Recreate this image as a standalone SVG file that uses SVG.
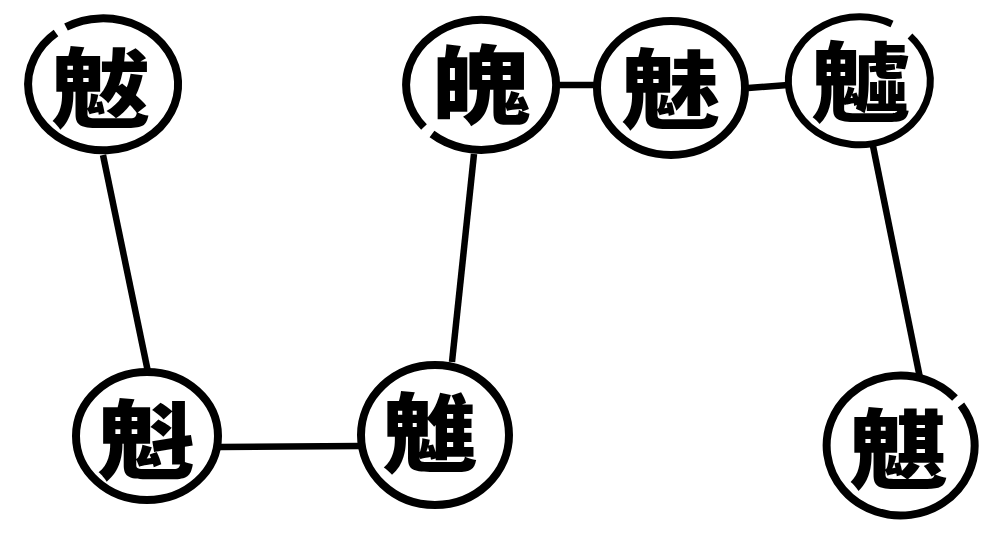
<svg xmlns="http://www.w3.org/2000/svg" width="986" height="534" viewBox="0 0 986 534">
<style>
.ring{fill:none;stroke:#000;stroke-width:8;stroke-linecap:butt}
.link{fill:none;stroke:#000;stroke-width:6.5;stroke-linecap:butt}
.glyph{font-family:"Noto Sans CJK TC","Noto Sans CJK SC",sans-serif;font-weight:900;font-size:86px;text-anchor:middle;fill:#000}
</style>
<rect width="986" height="534" fill="#fff"/>
<g id="connectors">
<path class="link" d="M103 155L148 372"/>
<path class="link" d="M474 154L452 362"/>
<path class="link" d="M873 146L920 378"/>
<path class="link" d="M558 85H596"/>
<path class="link" d="M748 88L788 85"/>
<path class="link" d="M220 447L360 446"/>
</g>
<g id="node-1"><path class="ring" d="M66 27A75 66 0 1 1 56 33"/><text class="glyph" transform="translate(101 121) scale(1.15 1)">魃</text></g>
<g id="node-2"><path class="ring" d="M432 134A75 65 0 1 0 424 127"/><text class="glyph" transform="translate(481 118) scale(1.15 1)">魄</text></g>
<g id="node-3"><ellipse class="ring" cx="671" cy="88" rx="74" ry="67"/><text class="glyph" transform="translate(671 122) scale(1.15 1)">魅</text></g>
<g id="node-4"><path class="ring" style="stroke-width:7" d="M910 36A71 64 0 1 1 892 24"/><text class="glyph" transform="translate(861 115) scale(1.15 1)">魖</text></g>
<g id="node-5"><ellipse class="ring" cx="147" cy="436" rx="71" ry="64"/><text class="glyph" transform="translate(147 473) scale(1.15 1)">魁</text></g>
<g id="node-6"><ellipse class="ring" cx="435" cy="435" rx="74" ry="70"/><text class="glyph" transform="translate(430 466) scale(1.1 1)">魋</text></g>
<g id="node-7"><path class="ring" d="M961 405A74 70 0 1 1 955 398"/><text class="glyph" transform="translate(899 482) scale(1.15 1)">魌</text></g>
</svg>
